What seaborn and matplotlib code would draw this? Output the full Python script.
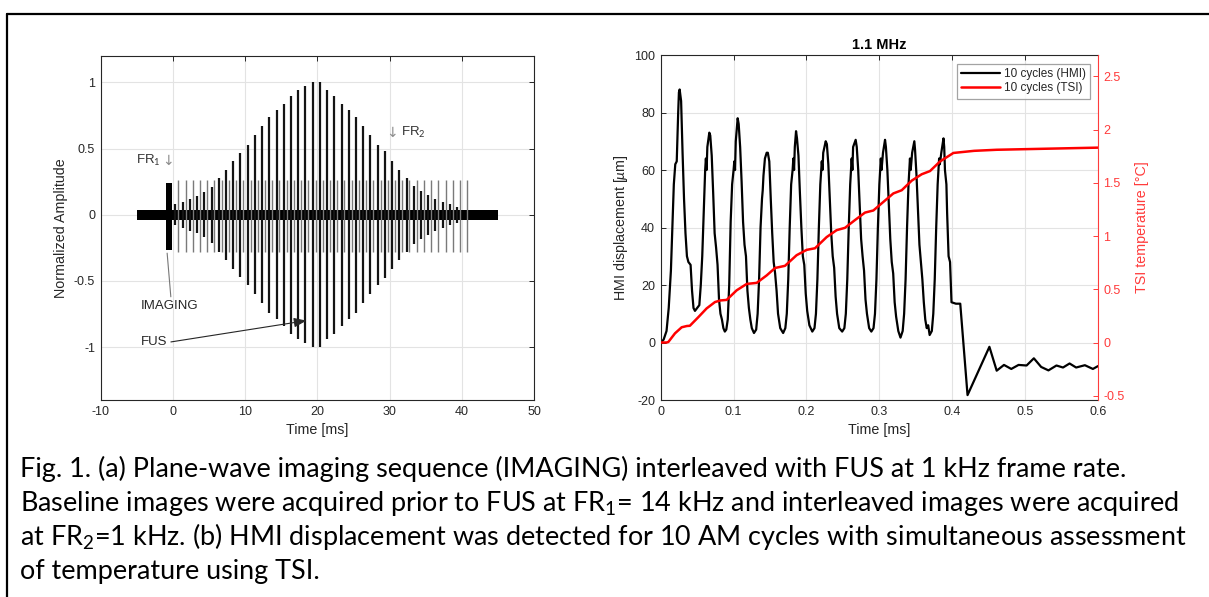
import numpy as np
import matplotlib
matplotlib.use('Agg')
import matplotlib.pyplot as plt
from matplotlib.lines import Line2D
import seaborn as sns

# ---- (a) pulse sequence ----
fus_amp = [0.08, 0.10, 0.12, 0.14, 0.17, 0.21, 0.28, 0.34, 0.41, 0.47,
           0.53, 0.60, 0.67, 0.74, 0.79, 0.84, 0.90, 0.94, 0.97, 1.00,
           1.00, 0.94, 0.90, 0.84, 0.79, 0.74, 0.67, 0.60, 0.53, 0.48,
           0.41, 0.34, 0.28, 0.22, 0.18, 0.15, 0.12, 0.10, 0.08, 0.06]
fus_start = 0.35          # ms, first FUS pulse (1 kHz after that)
img_start = 0.75          # ms, first interleaved imaging frame
img_count = 41
img_hi, img_lo = 0.26, -0.28
fr1_t = [-1.0, -0.1]      # baseline imaging block at FR1
fr1_hi, fr1_lo = 0.24, -0.27
noise_t = [-5, 45]
noise_half = 0.038

xticks_a = [-10, 0, 10, 20, 30, 40, 50]
yticks_a = [-1, -0.5, 0, 0.5, 1]
yticklabels_a = ['-1', '-0.5', '0', '0.5', '1']

# ---- (b) HMI displacement (um) and TSI temperature (degC) ----
hmi_t = [0, 0.004, 0.008, 0.011, 0.014, 0.016, 0.018, 0.020, 0.022, 0.024, 0.025, 0.026, 0.028, 0.030,
         0.032, 0.034, 0.036, 0.038, 0.041, 0.043, 0.045, 0.047, 0.050, 0.053,
         0.055, 0.057, 0.059, 0.061, 0.062, 0.063, 0.064, 0.0667, 0.068, 0.070, 0.072, 0.074, 0.076,
         0.078, 0.080, 0.082, 0.084, 0.086, 0.088,
         0.090, 0.092, 0.094, 0.096, 0.098, 0.100, 0.101, 0.102, 0.103, 0.1056, 0.107, 0.109, 0.111,
         0.113, 0.115, 0.117, 0.119, 0.121, 0.123, 0.125, 0.128,
         0.131, 0.133, 0.135, 0.137, 0.139, 0.140, 0.141, 0.143, 0.1454, 0.147, 0.149, 0.151, 0.153,
         0.155, 0.157, 0.159, 0.161, 0.164, 0.168,
         0.171, 0.173, 0.175, 0.177, 0.179, 0.181, 0.182, 0.183, 0.184, 0.1857, 0.187, 0.189, 0.191,
         0.193, 0.195, 0.197, 0.199, 0.201, 0.204, 0.208,
         0.211, 0.213, 0.215, 0.217, 0.219, 0.221, 0.222, 0.223, 0.2264, 0.228, 0.230, 0.232, 0.234,
         0.236, 0.238, 0.240, 0.242, 0.245, 0.249,
         0.252, 0.254, 0.256, 0.258, 0.260, 0.262, 0.263, 0.264, 0.2675, 0.269, 0.271, 0.273, 0.275,
         0.277, 0.279, 0.281, 0.283, 0.286, 0.289,
         0.292, 0.294, 0.296, 0.298, 0.300, 0.302, 0.303, 0.305, 0.3078, 0.309, 0.311, 0.313, 0.315,
         0.317, 0.319, 0.321, 0.323, 0.326, 0.329,
         0.332, 0.334, 0.336, 0.338, 0.340, 0.342, 0.343, 0.345, 0.348, 0.349, 0.351, 0.353, 0.355,
         0.357, 0.359, 0.361, 0.363, 0.365, 0.367, 0.369,
         0.372, 0.374, 0.376, 0.378, 0.380, 0.382, 0.383, 0.385, 0.388, 0.389, 0.390, 0.392, 0.393,
         0.395, 0.397, 0.399, 0.405, 0.411,
         0.421, 0.451, 0.461, 0.471, 0.481, 0.491, 0.502, 0.512, 0.522, 0.532, 0.543, 0.552,
         0.561, 0.570, 0.582, 0.593, 0.600]
hmi_um = [0, 1, 4, 12, 25, 40, 55, 62, 63, 80, 87, 88, 84, 66,
          50, 38, 30, 28, 27, 18, 12, 11, 12, 13,
          20, 30, 45, 60, 64, 60, 68, 73, 72, 65, 52, 38, 33,
          27, 15, 10, 8, 5, 3.8,
          4.5, 8, 20, 42, 55, 60, 63, 60, 70, 78, 76, 68, 56,
          42, 34, 30, 18, 12, 8, 5, 3.3,
          4.5, 10, 22, 40, 50, 53, 58, 64, 66, 66, 63, 50, 38,
          28, 24, 18, 10, 5, 3.3,
          5, 10, 22, 40, 55, 60, 64, 60, 68, 73.5, 71, 65, 52,
          40, 30, 27, 17, 11, 6, 3.8,
          5, 10, 22, 40, 55, 63, 60, 66, 70, 69, 62, 50, 38,
          30, 26, 16, 10, 5, 3.8,
          5, 10, 22, 40, 55, 64, 60, 68, 70.5, 68, 60, 48, 36,
          30, 25, 15, 10, 5, 3.8,
          5, 10, 22, 40, 55, 64, 60, 66, 70.5, 68, 60, 48, 36,
          28, 24, 14, 9, 4, 1.7,
          4, 10, 22, 40, 55, 64, 60, 66, 70, 67, 58, 46, 34,
          28, 22, 14, 8, 5, 6, 2.6,
          4, 10, 22, 40, 55, 64, 62, 66, 71, 68, 60, 55, 45,
          30, 28, 14, 13.5, 13.5,
          -18.3, -1.5, -9.8, -7.8, -9.2, -7.8, -8, -5.5, -8.5, -9.7, -8, -8.7,
          -7.3, -8.7, -7.9, -9.2, -8.2]

tsi_t = [0, 0.008, 0.0105, 0.0196, 0.0288, 0.036, 0.040, 0.0515, 0.063, 0.0745, 0.082, 0.0905,
         0.1042, 0.118, 0.1317, 0.1454, 0.157, 0.1705, 0.1865, 0.2003, 0.2117, 0.2277,
         0.2414, 0.2529, 0.2666, 0.2803, 0.2918, 0.3055, 0.3192, 0.3307, 0.3444, 0.3581,
         0.3695, 0.3832, 0.3993, 0.4015, 0.430, 0.461, 0.530, 0.600]
tsi_c = [0, 0, 0.005, 0.086, 0.143, 0.155, 0.157, 0.237, 0.32, 0.38, 0.395, 0.40,
         0.49, 0.55, 0.56, 0.63, 0.70, 0.72, 0.82, 0.87, 0.885, 0.99,
         1.055, 1.077, 1.15, 1.22, 1.24, 1.32, 1.40, 1.43, 1.52, 1.58,
         1.61, 1.70, 1.77, 1.78, 1.80, 1.81, 1.82, 1.83]

xticks_b = [0, 0.1, 0.2, 0.3, 0.4, 0.5, 0.6]
xticklabels_b = ['0', '0.1', '0.2', '0.3', '0.4', '0.5', '0.6']
yticks_b = [-20, 0, 20, 40, 60, 80, 100]
rticks_b = [-0.5, 0, 0.5, 1, 1.5, 2, 2.5]
rticklabels_b = ['-0.5', '0', '0.5', '1', '1.5', '2', '2.5']

caption = [
    'Fig. 1. (a) Plane-wave imaging sequence (IMAGING) interleaved with FUS at 1 kHz frame rate.',
    'Baseline images were acquired prior to FUS at FR$_1$= 14 kHz and interleaved images were acquired',
    'at FR$_2$=1 kHz. (b) HMI displacement was detected for 10 AM cycles with simultaneous assessment',
    'of temperature using TSI.',
]

# ---- style ----
sns.set_theme(style='white')
plt.rcParams['font.family'] = ['Liberation Sans', 'DejaVu Sans']
plt.rcParams['axes.unicode_minus'] = False
plt.rcParams['mathtext.fontset'] = 'custom'
plt.rcParams['mathtext.rm'] = 'Lato'
plt.rcParams['mathtext.it'] = 'Lato:italic'
INK = '#262626'
GRID = '#e3e3e3'
RED = '#ff0000'
TRED = '#ff3b3b'

W, H = 1209, 597
fig = plt.figure(figsize=(W / 100, H / 100), dpi=100)


def px_axes(x0, x1, y0, y1):
    return fig.add_axes([x0 / W, 1 - y1 / H, (x1 - x0) / W, (y1 - y0) / H])


def matlab_axes(ax):
    for s in ax.spines.values():
        s.set_color(INK)
        s.set_linewidth(0.8)
    ax.tick_params(direction='in', length=3.5, width=0.7, colors=INK,
                   labelsize=9, pad=4, top=True, right=True)
    ax.grid(True, color=GRID, lw=0.8)
    ax.set_axisbelow(True)


# ---- (a) ----
ax1 = px_axes(100.7, 534, 56, 400)
matlab_axes(ax1)
fus_t = fus_start + np.arange(len(fus_amp))
img_t = img_start + np.arange(img_count)
amp = np.array(fus_amp)
ax1.vlines(img_t, img_lo, img_hi, color='#7a7a7a', lw=1.0)
ax1.vlines(fus_t, -amp, amp, color='#141414', lw=1.6)
ax1.fill_between(noise_t, [-noise_half] * 2, [noise_half] * 2, color='black', lw=0)
ax1.fill_between(fr1_t, [fr1_lo] * 2, [fr1_hi] * 2, color='black', lw=0)
ax1.set_xlim(-10, 50)
ax1.set_ylim(-1.4, 1.2)
ax1.set_xticks(xticks_a)
ax1.set_yticks(yticks_a)
ax1.set_yticklabels(yticklabels_a)
ax1.set_xlabel('Time [ms]', fontsize=10.3, color=INK, labelpad=4)
ax1.set_ylabel('Normalized Amplitude', fontsize=10.3, color=INK, labelpad=4)

arrow_font = ['DejaVu Sans']
ax1.text(-5.1, 0.41, 'FR$_1$', fontsize=9.5, color='#333333', ha='left', va='center')
ax1.text(-0.75, 0.41, '\u2193', fontsize=10, color='#8c8c8c', ha='center', va='center',
         family=arrow_font)
ax1.text(30.4, 0.62, '\u2193', fontsize=10, color='#8c8c8c', ha='center', va='center',
         family=arrow_font)
ax1.text(31.6, 0.62, 'FR$_2$', fontsize=9.5, color='#333333', ha='left', va='center')
ax1.annotate('IMAGING', xy=(-0.8, -0.29), xytext=(-4.4, -0.69), fontsize=9.5, color=INK,
             ha='left', va='center',
             arrowprops=dict(arrowstyle='-', color='#777777', lw=0.8,
                             shrinkA=0, shrinkB=0, relpos=(0.52, 1.0)))
ax1.annotate('FUS', xy=(18.5, -0.80), xytext=(-4.4, -0.965), fontsize=9.5, color=INK,
             ha='left', va='center',
             arrowprops=dict(arrowstyle='-|>,head_length=0.8,head_width=0.3', color=INK,
                             lw=0.8, shrinkA=0, shrinkB=0, relpos=(1.0, 0.5)))

# ---- (b) ----
ax2 = px_axes(660.7, 1098, 55, 400)
matlab_axes(ax2)
ax2.tick_params(right=False)
ax2.spines['right'].set_visible(False)
sns.lineplot(x=hmi_t, y=hmi_um, ax=ax2, color='black', lw=1.6, sort=False,
             estimator=None, label='10 cycles (HMI)', legend=False)
ax2.set_xlim(0, 0.6)
ax2.set_ylim(-20, 100)
ax2.set_xticks(xticks_b)
ax2.set_xticklabels(xticklabels_b)
ax2.set_yticks(yticks_b)
ax2.set_xlabel('Time [ms]', fontsize=10.3, color=INK, labelpad=4)
ax2.set_ylabel('HMI displacement [$\\mu$m]', fontsize=10.3, color=INK, labelpad=3)
ax2.set_title('1.1 MHz', fontsize=10.5, fontweight='bold', color='black', pad=4)

axr = ax2.twinx()
sns.lineplot(x=tsi_t, y=tsi_c, ax=axr, color=RED, lw=1.8, sort=False,
             estimator=None, label='10 cycles (TSI)', legend=False)
for s in ['left', 'top', 'bottom']:
    axr.spines[s].set_visible(False)
axr.spines['right'].set_color(TRED)
axr.spines['right'].set_linewidth(0.8)
axr.set_ylim(-0.54, 2.70)
axr.set_yticks(rticks_b)
axr.set_yticklabels(rticklabels_b)
axr.tick_params(direction='in', length=3.5, width=0.7, colors=TRED, labelsize=9, pad=4)
axr.grid(False)
axr.set_ylabel('TSI temperature [\u00b0C]', fontsize=10.3, color=TRED, labelpad=7)

handles = [ax2.get_lines()[0], axr.get_lines()[0]]
leg = axr.legend(handles=handles, labels=['10 cycles (HMI)', '10 cycles (TSI)'],
                 loc='upper right', bbox_to_anchor=(0.982, 0.974), borderaxespad=0,
                 fontsize=8.5, frameon=True, fancybox=False, handlelength=3.3,
                 handletextpad=0.3, borderpad=0.35, labelspacing=0.2)
leg.get_frame().set_edgecolor('#8c8c8c')
leg.get_frame().set_linewidth(0.9)
for txt in leg.get_texts():
    txt.set_color(INK)

# ---- frame around the figure ----
fig.add_artist(Line2D([7 / W, 1], [1 - 13.5 / H] * 2, transform=fig.transFigure,
                      color='black', lw=1.6))
fig.add_artist(Line2D([7 / W] * 2, [1 - 13.5 / H, 0], transform=fig.transFigure,
                      color='black', lw=1.6))

# ---- caption ----
cap_base = [477, 511, 545, 579]
texts = [fig.text(20 / W, 1 - y / H, s, fontsize=17, family='Lato', color='black',
                  va='baseline', ha='left') for s, y in zip(caption, cap_base)]
fig.canvas.draw()
r = fig.canvas.get_renderer()
scale = 1159 / texts[1].get_window_extent(r).width
for t in texts:
    t.set_fontsize(17 * scale)

fig.savefig('out.png', dpi=100, facecolor='white')
